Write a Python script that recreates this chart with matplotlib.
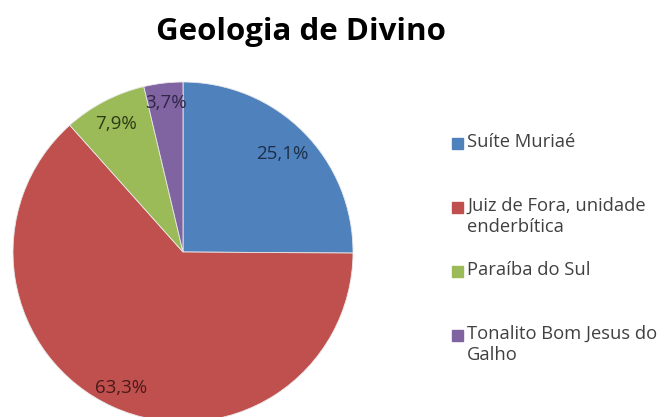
import textwrap

import matplotlib.pyplot as plt
import numpy as np
from matplotlib.patches import Rectangle

title = "Geologia de Divino"
categories = [
    "Suíte Muriaé",
    "Juiz de Fora, unidade enderbítica",
    "Paraíba do Sul",
    "Tonalito Bom Jesus do Galho",
]
values = [25.1, 63.3, 7.9, 3.7]

colors = ["#4f81bd", "#c0504d", "#9bbb59", "#8064a2"]
label_colors = ["#1d2f4a", "#4a1a1a", "#2d3a15", "#2f2545"]
label_dist = [0.82, 0.88, 0.85, 0.88]


def main():
    plt.rcParams['font.family'] = ['Open Sans', 'DejaVu Sans']

    width = 660
    height = 417
    ppi = 100
    fig = plt.figure(figsize=(width / ppi, height / ppi), dpi=ppi)

    # pie axes: centre ~ (183, 252) px, radius ~ 170 px
    r_px = 170
    lim = 1.02
    size = 2 * r_px * lim
    ax = fig.add_axes([(183 - size / 2) / width, (417 - 252 - size / 2) / height,
                       size / width, size / height])

    wedges, _ = ax.pie(values, colors=colors, startangle=90, counterclock=False,
                       wedgeprops=dict(edgecolor="#e8e8e8", linewidth=0.6))
    ax.set_xlim(-lim, lim)
    ax.set_ylim(-lim, lim)
    ax.set_aspect("equal")

    for w, v, d, c in zip(wedges, values, label_dist, label_colors):
        ang = np.deg2rad((w.theta1 + w.theta2) / 2)
        ax.text(d * np.cos(ang), d * np.sin(ang), f"{v:.1f}%".replace(".", ","),
                ha="center", va="center", fontsize=13.5, color=c)

    fig.text(301 / width, 1 - 32 / height, title, ha="center", va="center",
             fontsize=22.5, fontweight="bold", color="black")

    # legend drawn by hand to mimic the evenly spaced, wrapped Excel entries
    top0 = 134
    step = 64
    for i, (name, c) in enumerate(zip(categories, colors)):
        top = top0 + i * step
        fig.patches.append(Rectangle((452 / width, 1 - (top + 15) / height),
                                     11 / width, 11 / height,
                                     transform=fig.transFigure, color=c))
        fig.text(467 / width, 1 - (top - 1) / height, textwrap.fill(name, 21),
                 ha="left", va="top", fontsize=13.2, color="#404040",
                 linespacing=1.22)

    plt.savefig("out.png", dpi=ppi)


if __name__ == "__main__":
    main()
